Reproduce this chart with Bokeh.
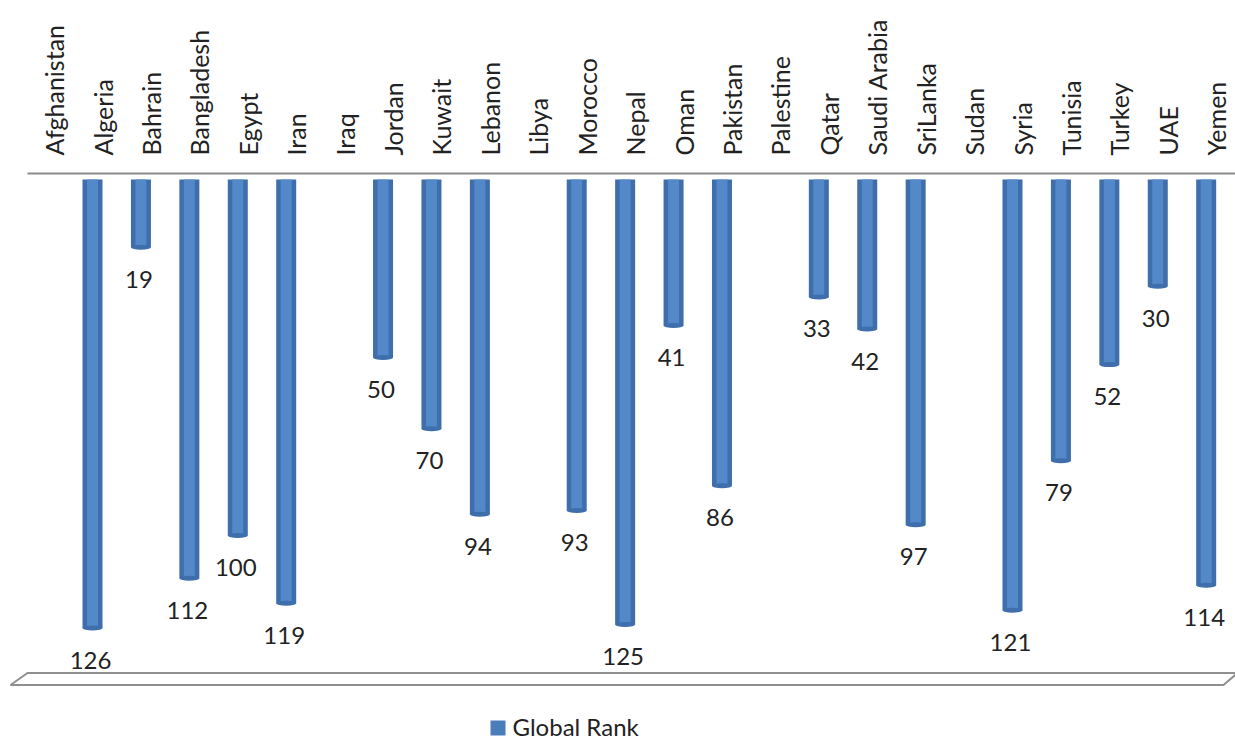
from bokeh.plotting import figure
from bokeh.models import ColumnDataSource, Range1d
from bokeh.core.properties import value
from bokeh.embed import file_html
from bokeh.resources import INLINE

# ---- data ----
countries = ["Afghanistan", "Algeria", "Bahrain", "Bangladesh", "Egypt", "Iran", "Iraq",
             "Jordan", "Kuwait", "Lebanon", "Libya", "Morocco", "Nepal", "Oman", "Pakistan",
             "Palestine", "Qatar", "Saudi Arabia", "SriLanka", "Sudan", "Syria", "Tunisia",
             "Turkey", "UAE", "Yemen"]
global_rank = [None, 126, 19, 112, 100, 119, None, 50, 70, 94, None, 93, 125, 41, 86,
               None, 33, 42, 97, None, 121, 79, 52, 30, 114]
series_name = "Global Rank"

# ---- layout constants ----
W, H = 1235, 740
X0, DX = 43.6, 48.42          # px of first category, px per category
Y0, DY = 179.0, 3.56          # px of value 0, px per rank unit
BLUE = "#4A7EBB"
BLUE_DARK = "#3E6EAB"
BLUE_LIGHT = "#5389C9"
TXT = "#222222"
FONT = "Lato"

x_range = Range1d(-X0 / DX, (W - X0) / DX)
y_range = Range1d((H - Y0) / DY, -Y0 / DY)   # inverted: rank grows downward

p = figure(width=W, height=H, x_range=x_range, y_range=y_range,
           output_backend="svg", toolbar_location=None, min_border=0,
           outline_line_color=None)
p.axis.visible = False
p.grid.visible = False

idx = [i for i, v in enumerate(global_rank) if v is not None]
src = ColumnDataSource(dict(
    x=idx,
    v=[global_rank[i] for i in idx],
    lab=[str(global_rank[i]) for i in idx],
    ylab=[global_rank[i] + 32 / DY for i in idx],
))
cat_src = ColumnDataSource(dict(x=list(range(len(countries))), name=countries,
                                y=[-24 / DY] * len(countries)))

def px_x(px):
    return (px - X0) / DX

def px_y(py):
    return (py - Y0) / DY

# top floor (edge-on)
p.line([px_x(27), px_x(W + 5)], [px_y(173), px_y(173)], line_color="#8a8a8a", line_width=2)
# bottom floor parallelogram
p.patch([px_x(27), px_x(W + 2), px_x(1223), px_x(10)],
        [px_y(672.5), px_y(672.5), px_y(684.5), px_y(684.5)],
        fill_color="white", line_color="#8f8f8f", line_width=2)

bw = 20 / DX
p.vbar(x="x", top=0, bottom="v", width=bw, source=src,
       fill_color=BLUE_DARK, line_color=None)
p.vbar(x="x", top=0, bottom="v", width=bw * 0.55, source=src,
       fill_color=BLUE_LIGHT, line_color=None)
p.ellipse(x="x", y="v", width=bw, height=5 / DY, source=src,
          fill_color=BLUE_DARK, line_color=None)

# value labels
p.text(x="x", y="ylab", text="lab", source=src, text_align="center",
       text_baseline="middle", text_font=value(FONT), text_font_size="24px",
       text_color=TXT, x_offset=-2)

# category labels (rotated)
p.text(x="x", y="y", text="name", source=cat_src, angle=1.5708,
       text_align="left", text_baseline="middle", text_font=value(FONT),
       text_font_size="25px", text_color=TXT, x_offset=10)

# legend (swatch + label)
p.quad(left=[px_x(490)], right=[px_x(505)], top=[px_y(720)], bottom=[px_y(735)],
       fill_color=BLUE, line_color=None)
p.text(x=[px_x(512)], y=[px_y(726)], text=[series_name], text_align="left",
       text_baseline="middle", text_font=value(FONT), text_font_size="24px",
       text_color=TXT)

open("out.html", "w").write(file_html(p, INLINE))
